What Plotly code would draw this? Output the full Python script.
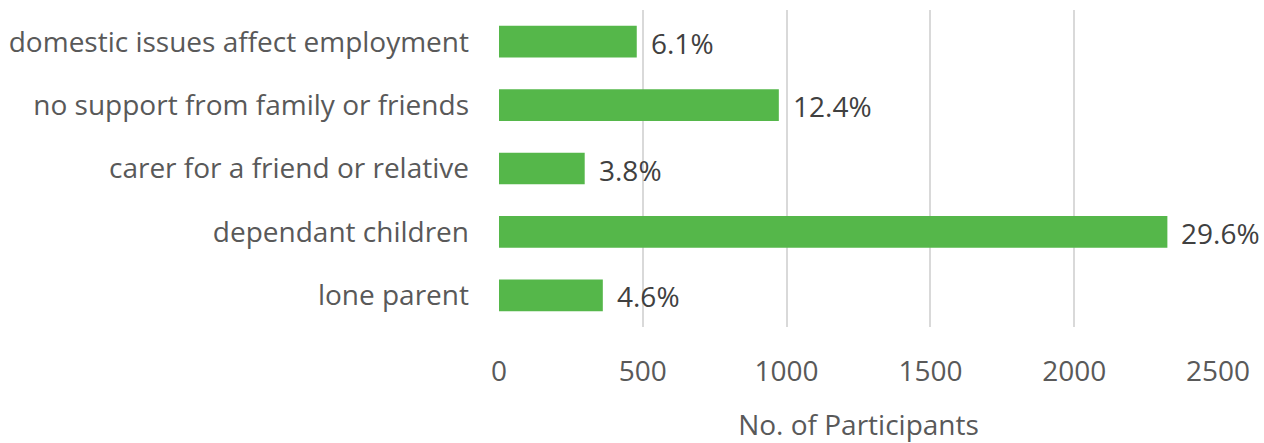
import plotly.graph_objects as go

categories = ["domestic issues affect employment", "no support from family or friends",
              "carer for a friend or relative", "dependant children", "lone parent"]
values = [479, 973, 298, 2324, 361]
pct_labels = ["6.1%", "12.4%", "3.8%", "29.6%", "4.6%"]
tick_vals = [0, 500, 1000, 1500, 2000, 2500]

FONT = "Open Sans"
fig = go.Figure(go.Bar(
    x=values, y=categories, orientation="h",
    marker=dict(color="#55b74a", line=dict(width=0)),
    width=0.5,
))

for v, c, t in zip(values, categories, pct_labels):
    fig.add_annotation(x=v, y=c, text=t, showarrow=False, xanchor="left",
                       xshift=12, yshift=-1,
                       font=dict(family=FONT, size=28, color="#404040"))

fig.update_layout(
    width=1264, height=443,
    margin=dict(l=499, r=46, t=10, b=116, autoexpand=False),
    plot_bgcolor="white", paper_bgcolor="white",
    showlegend=False,
    font=dict(family=FONT, size=28, color="#595959"),
    xaxis=dict(range=[0, 2500], tickvals=tick_vals, showgrid=True, gridcolor="#d9d9d9",
               gridwidth=1.5, zeroline=False, showline=False, ticks="",
               ticklabelstandoff=25, automargin=False,
               tickfont=dict(size=28, color="#595959"),
               title=dict(text="No. of Participants", standoff=34,
                          font=dict(size=28, color="#595959"))),
    yaxis=dict(autorange="reversed", showgrid=False, ticks="", showline=False,
               ticklabelstandoff=29, automargin=False,
               tickfont=dict(size=28, color="#595959")),
)
fig.write_html("out.html", config={"displayModeBar": False},
               post_script="document.body.style.margin='0';document.body.style.overflow='hidden';")
